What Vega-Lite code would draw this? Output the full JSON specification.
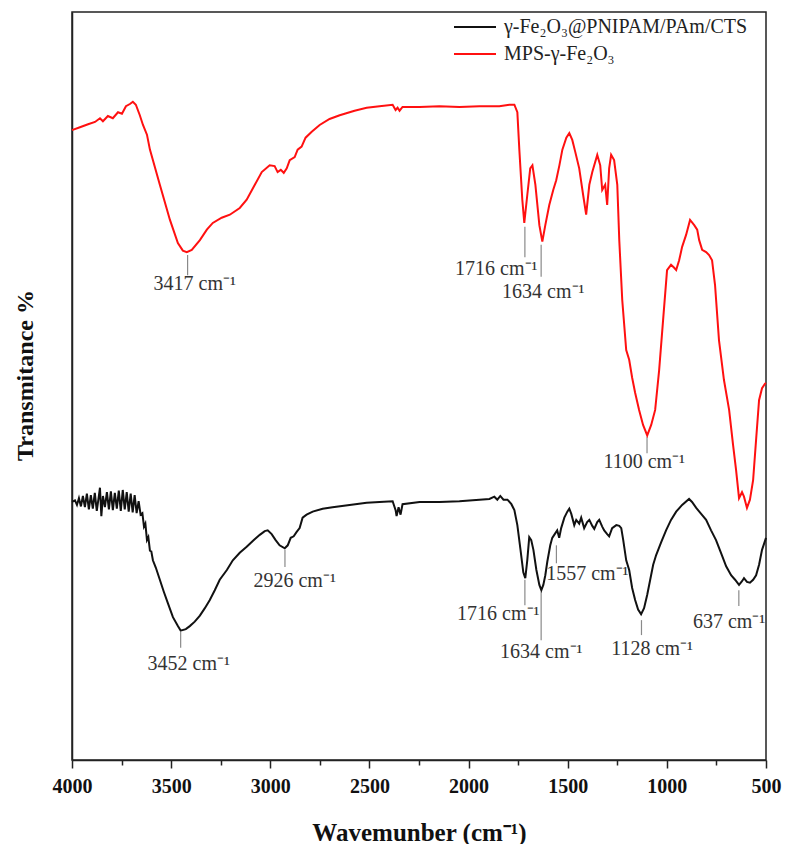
{
  "$schema": "https://vega.github.io/schema/vega-lite/v6.json",
  "width": 694,
  "height": 748,
  "autosize": {"type": "none"},
  "padding": {"left": 72, "top": 12, "right": 19, "bottom": 84},
  "background": "white",
  "config": {
    "view": {"stroke": "#222", "strokeWidth": 1.5},
    "font": "Liberation Serif"
  },
  "datasets": {
    "red": [
      {"wn": 4000, "t": 84.2}, {"wn": 3960, "t": 84.6}, {"wn": 3919, "t": 85.0}, {"wn": 3884, "t": 85.3},
      {"wn": 3859, "t": 85.8}, {"wn": 3844, "t": 85.4}, {"wn": 3819, "t": 86.1}, {"wn": 3794, "t": 85.8},
      {"wn": 3768, "t": 86.6}, {"wn": 3748, "t": 86.4}, {"wn": 3728, "t": 87.4}, {"wn": 3708, "t": 87.7},
      {"wn": 3693, "t": 88.0}, {"wn": 3678, "t": 87.6}, {"wn": 3658, "t": 86.2}, {"wn": 3642, "t": 84.9},
      {"wn": 3622, "t": 83.6}, {"wn": 3607, "t": 81.6}, {"wn": 3557, "t": 76.9}, {"wn": 3506, "t": 72.2},
      {"wn": 3466, "t": 69.1}, {"wn": 3441, "t": 68.1}, {"wn": 3421, "t": 67.9}, {"wn": 3396, "t": 68.2},
      {"wn": 3355, "t": 69.5}, {"wn": 3320, "t": 70.9}, {"wn": 3290, "t": 71.8}, {"wn": 3245, "t": 72.5},
      {"wn": 3204, "t": 72.9}, {"wn": 3154, "t": 73.8}, {"wn": 3119, "t": 74.9}, {"wn": 3078, "t": 76.9},
      {"wn": 3043, "t": 78.6}, {"wn": 3003, "t": 79.5}, {"wn": 2978, "t": 79.4}, {"wn": 2963, "t": 78.6},
      {"wn": 2947, "t": 78.9}, {"wn": 2932, "t": 78.5}, {"wn": 2917, "t": 79.1}, {"wn": 2902, "t": 80.2},
      {"wn": 2877, "t": 80.6}, {"wn": 2862, "t": 81.6}, {"wn": 2842, "t": 82.0}, {"wn": 2822, "t": 83.2},
      {"wn": 2791, "t": 84.0}, {"wn": 2751, "t": 84.9}, {"wn": 2701, "t": 85.7}, {"wn": 2650, "t": 86.2},
      {"wn": 2575, "t": 86.8}, {"wn": 2514, "t": 87.2}, {"wn": 2449, "t": 87.4}, {"wn": 2383, "t": 87.6},
      {"wn": 2368, "t": 86.9}, {"wn": 2358, "t": 87.2}, {"wn": 2348, "t": 86.8}, {"wn": 2333, "t": 87.3},
      {"wn": 2247, "t": 87.3}, {"wn": 2147, "t": 87.4}, {"wn": 2046, "t": 87.3}, {"wn": 1945, "t": 87.4},
      {"wn": 1845, "t": 87.4}, {"wn": 1794, "t": 87.6}, {"wn": 1769, "t": 87.6}, {"wn": 1754, "t": 86.6},
      {"wn": 1744, "t": 81.6}, {"wn": 1729, "t": 74.9}, {"wn": 1719, "t": 71.8}, {"wn": 1704, "t": 75.5},
      {"wn": 1689, "t": 79.1}, {"wn": 1678, "t": 79.5}, {"wn": 1663, "t": 76.9}, {"wn": 1643, "t": 71.5},
      {"wn": 1628, "t": 69.3}, {"wn": 1613, "t": 71.5}, {"wn": 1593, "t": 74.2}, {"wn": 1573, "t": 76.2},
      {"wn": 1558, "t": 77.5}, {"wn": 1542, "t": 79.5}, {"wn": 1527, "t": 81.6}, {"wn": 1507, "t": 83.2},
      {"wn": 1492, "t": 83.8}, {"wn": 1477, "t": 82.9}, {"wn": 1462, "t": 81.3}, {"wn": 1442, "t": 79.1},
      {"wn": 1422, "t": 75.5}, {"wn": 1407, "t": 72.9}, {"wn": 1391, "t": 76.9}, {"wn": 1376, "t": 78.6},
      {"wn": 1351, "t": 80.9}, {"wn": 1336, "t": 79.5}, {"wn": 1326, "t": 76.2}, {"wn": 1311, "t": 76.9},
      {"wn": 1301, "t": 74.2}, {"wn": 1291, "t": 79.1}, {"wn": 1281, "t": 80.9}, {"wn": 1266, "t": 80.2},
      {"wn": 1250, "t": 76.9}, {"wn": 1240, "t": 69.5}, {"wn": 1225, "t": 61.5}, {"wn": 1205, "t": 54.8},
      {"wn": 1190, "t": 53.5}, {"wn": 1175, "t": 51.1}, {"wn": 1160, "t": 49.1}, {"wn": 1140, "t": 46.8},
      {"wn": 1120, "t": 44.8}, {"wn": 1099, "t": 43.4}, {"wn": 1079, "t": 44.8}, {"wn": 1059, "t": 46.8},
      {"wn": 1039, "t": 52.1}, {"wn": 1019, "t": 58.8}, {"wn": 999, "t": 65.5}, {"wn": 979, "t": 66.2},
      {"wn": 963, "t": 65.8}, {"wn": 953, "t": 65.5}, {"wn": 938, "t": 66.8}, {"wn": 923, "t": 68.6},
      {"wn": 903, "t": 70.2}, {"wn": 883, "t": 72.2}, {"wn": 862, "t": 71.5}, {"wn": 847, "t": 70.9},
      {"wn": 837, "t": 69.5}, {"wn": 822, "t": 68.2}, {"wn": 802, "t": 67.9}, {"wn": 787, "t": 67.5},
      {"wn": 772, "t": 66.8}, {"wn": 757, "t": 63.5}, {"wn": 737, "t": 56.1}, {"wn": 712, "t": 50.8},
      {"wn": 686, "t": 46.8}, {"wn": 666, "t": 42.1}, {"wn": 651, "t": 38.8}, {"wn": 636, "t": 35.0},
      {"wn": 621, "t": 35.8}, {"wn": 611, "t": 35.2}, {"wn": 596, "t": 33.7}, {"wn": 581, "t": 34.8},
      {"wn": 565, "t": 37.4}, {"wn": 550, "t": 42.8}, {"wn": 535, "t": 48.1}, {"wn": 520, "t": 49.7},
      {"wn": 505, "t": 50.3}, {"wn": 500, "t": 50.4}
    ],
    "black": [
      {"wn": 4000, "t": 34.5}, {"wn": 3985, "t": 34.7}, {"wn": 3975, "t": 34.1}, {"wn": 3965, "t": 35.0},
      {"wn": 3955, "t": 33.9}, {"wn": 3945, "t": 35.3}, {"wn": 3935, "t": 33.8}, {"wn": 3925, "t": 35.6},
      {"wn": 3915, "t": 33.5}, {"wn": 3905, "t": 35.4}, {"wn": 3895, "t": 33.6}, {"wn": 3885, "t": 35.7},
      {"wn": 3875, "t": 33.3}, {"wn": 3865, "t": 35.2}, {"wn": 3859, "t": 36.4}, {"wn": 3852, "t": 32.6},
      {"wn": 3844, "t": 35.3}, {"wn": 3834, "t": 33.8}, {"wn": 3824, "t": 35.8}, {"wn": 3814, "t": 33.5},
      {"wn": 3804, "t": 35.9}, {"wn": 3794, "t": 33.4}, {"wn": 3784, "t": 35.7}, {"wn": 3774, "t": 33.6},
      {"wn": 3764, "t": 36.0}, {"wn": 3754, "t": 33.3}, {"wn": 3744, "t": 36.1}, {"wn": 3734, "t": 33.5},
      {"wn": 3724, "t": 35.8}, {"wn": 3714, "t": 33.2}, {"wn": 3704, "t": 35.6}, {"wn": 3694, "t": 33.1},
      {"wn": 3684, "t": 35.4}, {"wn": 3674, "t": 33.0}, {"wn": 3664, "t": 34.6}, {"wn": 3654, "t": 32.8},
      {"wn": 3645, "t": 33.0}, {"wn": 3637, "t": 31.2}, {"wn": 3630, "t": 31.6}, {"wn": 3622, "t": 29.4},
      {"wn": 3615, "t": 29.8}, {"wn": 3607, "t": 28.0}, {"wn": 3600, "t": 27.9},
      {"wn": 3592, "t": 26.7}, {"wn": 3577, "t": 25.7}, {"wn": 3557, "t": 24.1}, {"wn": 3537, "t": 22.5},
      {"wn": 3517, "t": 21.0}, {"wn": 3491, "t": 19.1}, {"wn": 3466, "t": 17.9}, {"wn": 3452, "t": 17.3},
      {"wn": 3426, "t": 17.5}, {"wn": 3406, "t": 17.9}, {"wn": 3381, "t": 18.5}, {"wn": 3355, "t": 19.3},
      {"wn": 3330, "t": 20.3}, {"wn": 3305, "t": 21.4}, {"wn": 3280, "t": 22.7}, {"wn": 3255, "t": 24.1},
      {"wn": 3219, "t": 25.4}, {"wn": 3189, "t": 26.7}, {"wn": 3154, "t": 27.7}, {"wn": 3119, "t": 28.5},
      {"wn": 3083, "t": 29.4}, {"wn": 3053, "t": 30.1}, {"wn": 3028, "t": 30.6}, {"wn": 3013, "t": 30.7},
      {"wn": 2993, "t": 30.2}, {"wn": 2973, "t": 29.4}, {"wn": 2953, "t": 28.7}, {"wn": 2927, "t": 28.3},
      {"wn": 2912, "t": 28.7}, {"wn": 2897, "t": 29.7}, {"wn": 2882, "t": 29.9}, {"wn": 2867, "t": 30.5},
      {"wn": 2852, "t": 31.0}, {"wn": 2837, "t": 32.4}, {"wn": 2817, "t": 32.8}, {"wn": 2786, "t": 33.2},
      {"wn": 2736, "t": 33.6}, {"wn": 2686, "t": 33.8}, {"wn": 2600, "t": 34.1}, {"wn": 2514, "t": 34.4},
      {"wn": 2449, "t": 34.5}, {"wn": 2383, "t": 34.6}, {"wn": 2368, "t": 33.4}, {"wn": 2363, "t": 32.6},
      {"wn": 2353, "t": 33.8}, {"wn": 2343, "t": 32.8}, {"wn": 2333, "t": 34.2}, {"wn": 2247, "t": 34.5},
      {"wn": 2147, "t": 34.5}, {"wn": 2046, "t": 34.6}, {"wn": 1945, "t": 34.8}, {"wn": 1895, "t": 34.9},
      {"wn": 1870, "t": 35.2}, {"wn": 1855, "t": 34.8}, {"wn": 1840, "t": 35.3}, {"wn": 1824, "t": 34.8},
      {"wn": 1804, "t": 34.8}, {"wn": 1784, "t": 34.2}, {"wn": 1769, "t": 33.4}, {"wn": 1754, "t": 31.4},
      {"wn": 1739, "t": 28.3}, {"wn": 1724, "t": 25.1}, {"wn": 1714, "t": 24.3}, {"wn": 1704, "t": 26.7},
      {"wn": 1694, "t": 29.8}, {"wn": 1684, "t": 29.4}, {"wn": 1673, "t": 28.1}, {"wn": 1658, "t": 25.4},
      {"wn": 1643, "t": 23.4}, {"wn": 1633, "t": 22.7}, {"wn": 1623, "t": 23.4}, {"wn": 1613, "t": 24.7},
      {"wn": 1603, "t": 26.5}, {"wn": 1588, "t": 28.7}, {"wn": 1578, "t": 29.7}, {"wn": 1563, "t": 30.3},
      {"wn": 1553, "t": 30.7}, {"wn": 1543, "t": 29.7}, {"wn": 1533, "t": 31.0}, {"wn": 1517, "t": 32.4},
      {"wn": 1502, "t": 33.2}, {"wn": 1492, "t": 33.6}, {"wn": 1482, "t": 32.9}, {"wn": 1467, "t": 31.4},
      {"wn": 1457, "t": 32.1}, {"wn": 1442, "t": 31.6}, {"wn": 1432, "t": 32.4}, {"wn": 1417, "t": 31.0},
      {"wn": 1402, "t": 31.8}, {"wn": 1391, "t": 32.1}, {"wn": 1376, "t": 31.3}, {"wn": 1366, "t": 30.9},
      {"wn": 1351, "t": 31.8}, {"wn": 1341, "t": 32.1}, {"wn": 1326, "t": 31.2}, {"wn": 1316, "t": 30.7},
      {"wn": 1301, "t": 30.2}, {"wn": 1291, "t": 29.9}, {"wn": 1276, "t": 31.0}, {"wn": 1255, "t": 31.4},
      {"wn": 1240, "t": 31.3}, {"wn": 1230, "t": 31.0}, {"wn": 1220, "t": 29.4}, {"wn": 1205, "t": 26.7},
      {"wn": 1190, "t": 25.4}, {"wn": 1175, "t": 23.0}, {"wn": 1160, "t": 21.4}, {"wn": 1145, "t": 20.1},
      {"wn": 1130, "t": 19.5}, {"wn": 1115, "t": 20.3}, {"wn": 1099, "t": 22.1}, {"wn": 1084, "t": 24.1},
      {"wn": 1069, "t": 26.1}, {"wn": 1054, "t": 27.4}, {"wn": 1029, "t": 29.1}, {"wn": 1004, "t": 30.7},
      {"wn": 979, "t": 32.1}, {"wn": 953, "t": 33.2}, {"wn": 923, "t": 34.1}, {"wn": 888, "t": 34.9},
      {"wn": 873, "t": 34.5}, {"wn": 852, "t": 33.7}, {"wn": 827, "t": 32.9}, {"wn": 802, "t": 32.1},
      {"wn": 777, "t": 30.7}, {"wn": 752, "t": 29.4}, {"wn": 727, "t": 27.7}, {"wn": 701, "t": 25.9},
      {"wn": 676, "t": 24.7}, {"wn": 656, "t": 24.1}, {"wn": 636, "t": 23.4}, {"wn": 621, "t": 23.9},
      {"wn": 611, "t": 24.3}, {"wn": 596, "t": 23.8}, {"wn": 581, "t": 23.7}, {"wn": 565, "t": 24.1},
      {"wn": 550, "t": 24.7}, {"wn": 535, "t": 26.1}, {"wn": 520, "t": 28.1}, {"wn": 500, "t": 29.7}
    ],
    "notes": [
      {"wn": 3417, "t1": 67.5, "t2": 64.8, "lx": 3381, "ly": 63.6, "label": "3417 cm⁻¹"},
      {"wn": 1716, "t1": 71.3, "t2": 67.2, "lx": 1860, "ly": 65.7, "label": "1716 cm⁻¹"},
      {"wn": 1634, "t1": 68.9, "t2": 64.6, "lx": 1623, "ly": 62.6, "label": "1634 cm⁻¹"},
      {"wn": 1100, "t1": 43.2, "t2": 41.0, "lx": 1114, "ly": 39.9, "label": "1100 cm⁻¹"},
      {"wn": 3452, "t1": 17.1, "t2": 15.0, "lx": 3411, "ly": 12.9, "label": "3452 cm⁻¹"},
      {"wn": 2926, "t1": 28.1, "t2": 25.8, "lx": 2877, "ly": 23.9, "label": "2926 cm⁻¹"},
      {"wn": 1716, "t1": 24.1, "t2": 20.7, "lx": 1850, "ly": 19.5, "label": "1716 cm⁻¹"},
      {"wn": 1634, "t1": 22.5, "t2": 16.0, "lx": 1633, "ly": 14.5, "label": "1634 cm⁻¹"},
      {"wn": 1557, "t1": 28.7, "t2": 26.3, "lx": 1401, "ly": 24.8, "label": "1557 cm⁻¹"},
      {"wn": 1128, "t1": 18.7, "t2": 16.7, "lx": 1074, "ly": 14.9, "label": "1128 cm⁻¹"},
      {"wn": 637, "t1": 22.7, "t2": 20.6, "lx": 686, "ly": 18.5, "label": "637 cm⁻¹"}
    ]
  },
  "layer": [
    {
      "data": {"name": "notes"},
      "mark": {"type": "rule", "color": "#8a8a8a", "strokeWidth": 1.2},
      "encoding": {
        "x": {
          "field": "wn", "type": "quantitative",
          "scale": {"domain": [500, 4000], "reverse": true, "nice": false, "zero": false},
          "axis": {
            "orient": "bottom",
            "values": [4000, 3750, 3500, 3250, 3000, 2750, 2500, 2250, 2000, 1750, 1500, 1250, 1000, 750, 500],
            "labelExpr": "datum.value % 500 === 0 ? format(datum.value, 'd') : ''",
            "tickSize": {"condition": {"test": "datum.value % 500 === 0", "value": 8}, "value": 5},
            "tickWidth": 1.5, "tickColor": "#222",
            "domainColor": "#222", "domainWidth": 1.5,
            "labelFont": "Liberation Serif", "labelFontSize": 20, "labelFontWeight": "bold",
            "labelColor": "#111", "labelPadding": 8, "labelFlush": false, "labelOverlap": false,
            "grid": false,
            "title": "Wavemunber (cm⁻¹)",
            "titleFont": "Liberation Serif", "titleFontSize": 25, "titleFontWeight": "bold",
            "titleColor": "#111", "titleY": 80, "titleBaseline": "alphabetic"
          }
        },
        "y": {
          "field": "t1", "type": "quantitative",
          "scale": {"domain": [0, 100], "nice": false, "zero": false},
          "axis": {
            "ticks": false, "labels": false, "grid": false,
            "domainColor": "#222", "domainWidth": 1.5,
            "title": "Transmitance %",
            "titleFont": "Liberation Serif", "titleFontSize": 24, "titleFontWeight": "bold",
            "titleColor": "#111", "titleX": -47, "titleY": 363, "titleAngle": -90,
            "titleAlign": "center", "titleBaseline": "middle"
          }
        },
        "y2": {"field": "t2"}
      }
    },
    {
      "data": {"name": "notes"},
      "mark": {"type": "text", "font": "Liberation Serif", "fontSize": 20, "color": "#333", "baseline": "middle", "align": "center"},
      "encoding": {
        "x": {"field": "lx", "type": "quantitative"},
        "y": {"field": "ly", "type": "quantitative"},
        "text": {"field": "label"}
      }
    },
    {
      "data": {"name": "black"},
      "transform": [{"calculate": "'γ-Fe₂O₃@PNIPAM/PAm/CTS'", "as": "series"}],
      "mark": {"type": "line", "strokeWidth": 2, "interpolate": "linear"},
      "encoding": {
        "x": {"field": "wn", "type": "quantitative"},
        "y": {"field": "t", "type": "quantitative"},
        "color": {"field": "series", "type": "nominal"}
      }
    },
    {
      "data": {"name": "red"},
      "transform": [{"calculate": "'MPS-γ-Fe₂O₃'", "as": "series"}],
      "mark": {"type": "line", "strokeWidth": 2, "interpolate": "linear"},
      "encoding": {
        "x": {"field": "wn", "type": "quantitative"},
        "y": {"field": "t", "type": "quantitative"},
        "color": {
          "field": "series", "type": "nominal",
          "scale": {"domain": ["γ-Fe₂O₃@PNIPAM/PAm/CTS", "MPS-γ-Fe₂O₃"], "range": ["#111111", "#ff1010"]},
          "legend": {
            "orient": "none", "legendX": 387, "legendY": -1, "title": null,
            "symbolType": "M-1.4,0H1.4", "symbolSize": 900, "symbolStrokeWidth": 2,
            "labelFont": "Liberation Serif", "labelFontSize": 20, "labelColor": "#222",
            "labelOffset": 13, "rowPadding": 1, "padding": 0, "labelLimit": 400
          }
        }
      }
    }
  ]
}
